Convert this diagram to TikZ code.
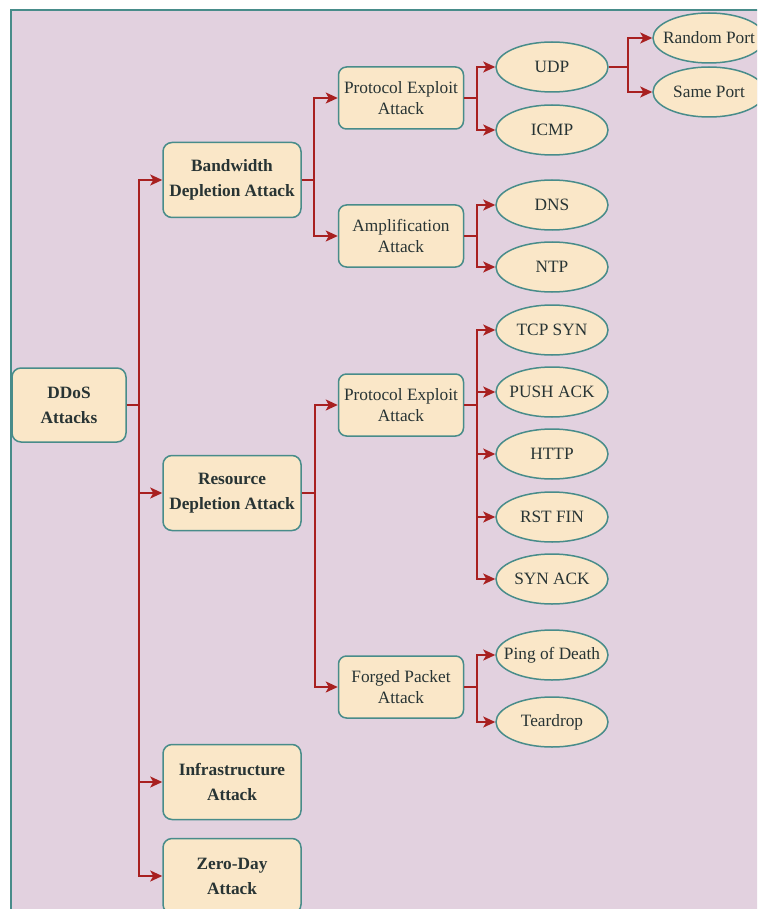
\documentclass[tikz,border=0pt]{standalone}
\usepackage{fontspec}
\setmainfont{Liberation Serif}
\newfontfamily\diagfont{Liberation Serif}
\usetikzlibrary{shapes.geometric,arrows.meta}
\definecolor{bgpink}{RGB}{226,209,223}
\definecolor{boxfill}{RGB}{250,231,200}
\definecolor{boxline}{RGB}{72,140,138}
\definecolor{arrowred}{RGB}{168,32,32}
\definecolor{textdark}{RGB}{40,52,52}

\begin{document}
\begin{tikzpicture}[x=1pt, y=-1pt,
    >={Stealth[length=12pt,width=11pt,inset=3pt]},
    main/.style={draw=boxline, fill=boxfill, line width=1.5pt, rounded corners=9pt, align=center, text=textdark, font=\diagfont\fontsize{17.3}{25}\selectfont\bfseries, inner sep=0pt},
    sub/.style={draw=boxline, fill=boxfill, line width=1.5pt, rounded corners=8pt, align=center, text=textdark, font=\diagfont\fontsize{17.3}{21}\selectfont, minimum width=125pt, minimum height=62pt, inner sep=0pt},
    leaf/.style={draw=boxline, fill=boxfill, line width=1.5pt, ellipse, text=textdark, font=\diagfont\fontsize{17.3}{21}\selectfont, minimum width=112pt, minimum height=50pt, inner xsep=-30pt, inner ysep=0pt},
    link/.style={->, arrowred, line width=1.6pt}]

\useasboundingbox (0,0) rectangle (757,909);
\clip (0,0) rectangle (757,909);
\draw[boxline, fill=bgpink, line width=1.5pt] (11,10) rectangle (780,930);

% root and first level
\node[main, minimum width=114pt, minimum height=74pt] (ddos) at (69,405) {DDoS\\Attacks};
\node[main, minimum width=138pt, minimum height=75pt] (bw) at (232,180) {Bandwidth\\Depletion Attack};
\node[main, minimum width=138pt, minimum height=75pt] (res) at (232,493) {Resource\\Depletion Attack};
\node[main, minimum width=138pt, minimum height=75pt] (infra) at (232,782) {Infrastructure\\Attack};
\node[main, minimum width=138pt, minimum height=75pt] (zero) at (232,876) {Zero-Day\\Attack};

% second level
\node[sub] (pe1) at (401,98) {Protocol Exploit\\Attack};
\node[sub] (amp) at (401,236) {Amplification\\Attack};
\node[sub] (pe2) at (401,405) {Protocol Exploit\\Attack};
\node[sub] (forged) at (401,687) {Forged Packet\\Attack};

% leaves
\node[leaf] (udp) at (552,67) {UDP};
\node[leaf] (icmp) at (552,130) {ICMP};
\node[leaf] (dns) at (552,205) {DNS};
\node[leaf] (ntp) at (552,267) {NTP};
\node[leaf] (tcpsyn) at (552,330) {TCP SYN};
\node[leaf] (pushack) at (552,392) {PUSH ACK};
\node[leaf] (http) at (552,454) {HTTP};
\node[leaf] (rstfin) at (552,517) {RST FIN};
\node[leaf] (synack) at (552,579) {SYN ACK};
\node[leaf] (ping) at (552,655) {Ping of Death};
\node[leaf] (tear) at (552,722) {Teardrop};
\node[leaf] (rand) at (709,38) {Random Port};
\node[leaf] (same) at (709,92) {Same Port};

\draw[link] (ddos.east) -- ++(12,0) |- (bw.west);
\draw[link] (ddos.east) -- ++(12,0) |- (res.west);
\draw[link] (ddos.east) -- ++(12,0) |- (infra.west);
\draw[link] (ddos.east) -- ++(12,0) |- (zero.west);

\draw[link] (bw.east) -- ++(12,0) |- (pe1.west);
\draw[link] (bw.east) -- ++(12,0) |- (amp.west);
\draw[link] (res.east) -- ++(13,0) |- (pe2.west);
\draw[link] (res.east) -- ++(13,0) |- (forged.west);

\draw[link] (pe1.east) -- ++(13,0) |- (udp.west);
\draw[link] (pe1.east) -- ++(13,0) |- (icmp.west);
\draw[link] (amp.east) -- ++(13,0) |- (dns.west);
\draw[link] (amp.east) -- ++(13,0) |- (ntp.west);
\draw[link] (pe2.east) -- ++(13,0) |- (tcpsyn.west);
\draw[link] (pe2.east) -- ++(13,0) |- (pushack.west);
\draw[link] (pe2.east) -- ++(13,0) |- (http.west);
\draw[link] (pe2.east) -- ++(13,0) |- (rstfin.west);
\draw[link] (pe2.east) -- ++(13,0) |- (synack.west);
\draw[link] (forged.east) -- ++(13,0) |- (ping.west);
\draw[link] (forged.east) -- ++(13,0) |- (tear.west);

\draw[link] (udp.east) -- ++(19,0) |- (rand.west);
\draw[link] (udp.east) -- ++(19,0) |- (same.west);
\end{tikzpicture}
\end{document}
